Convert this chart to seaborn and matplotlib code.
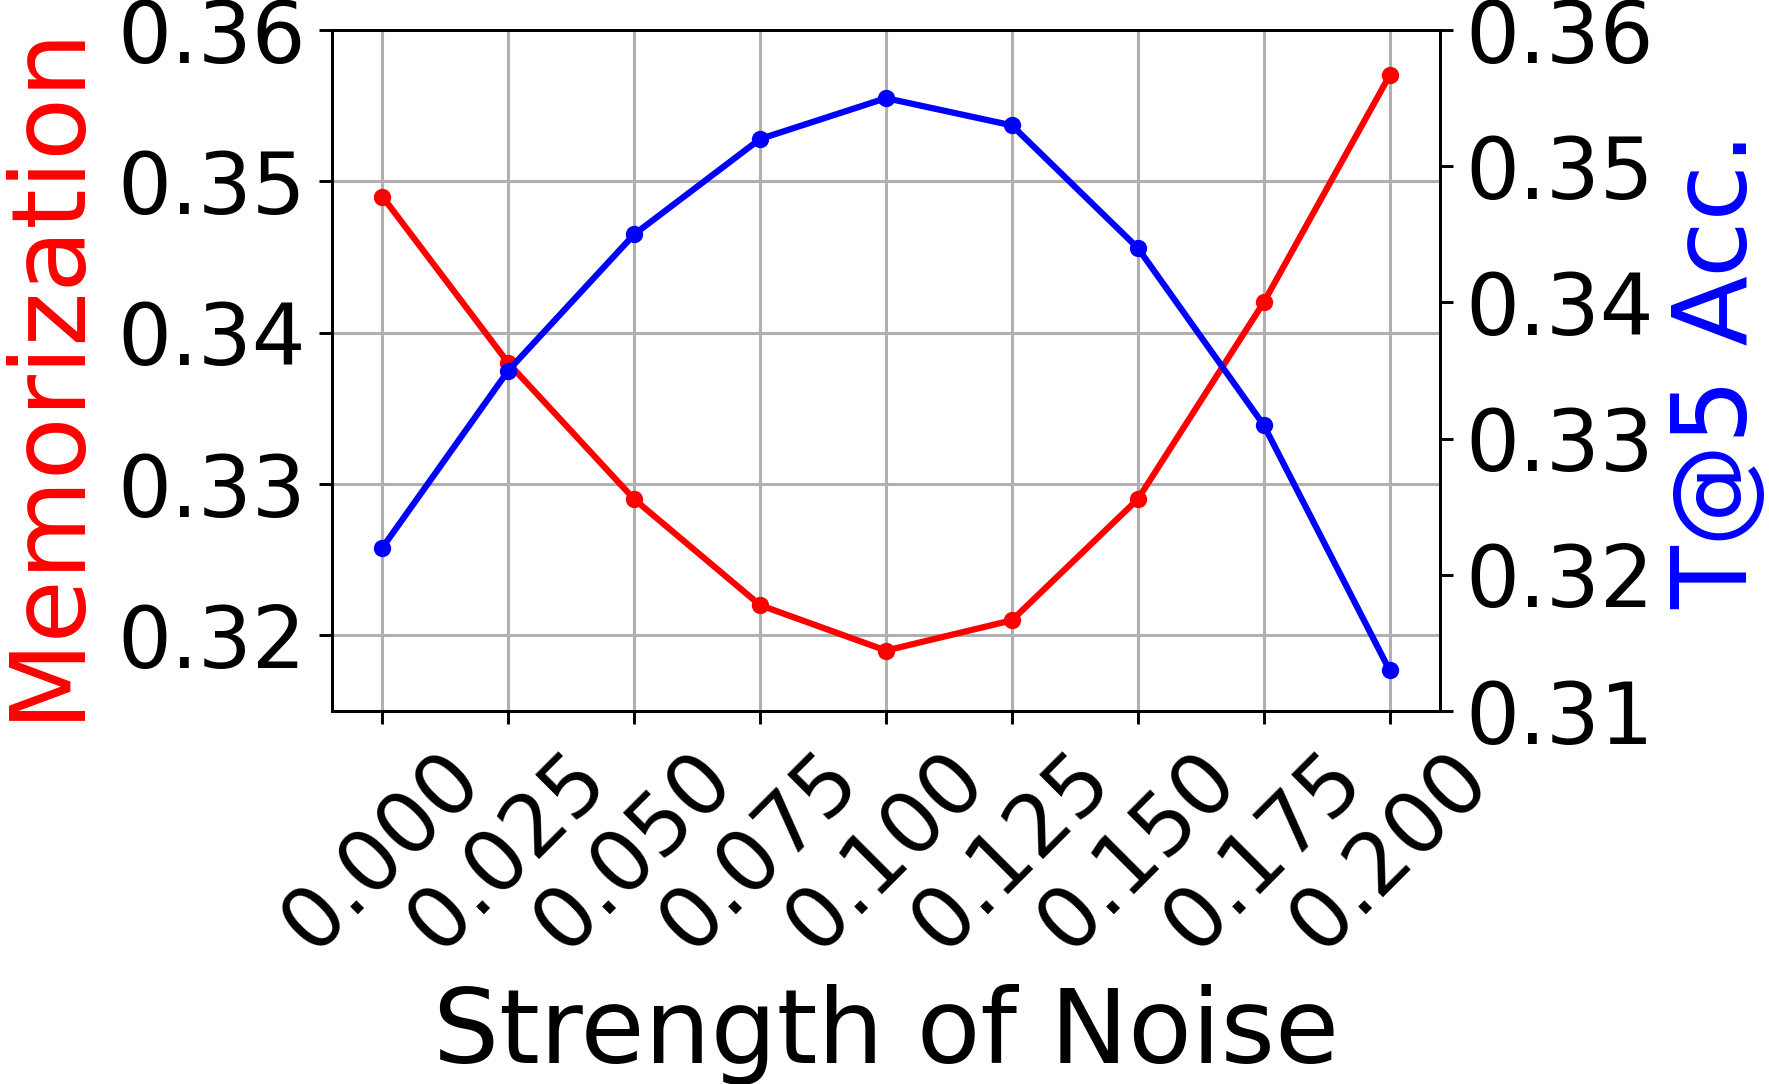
import seaborn as sns
import matplotlib.pyplot as plt
import pandas as pd

noise = [0.000, 0.025, 0.050, 0.075, 0.100, 0.125, 0.150, 0.175, 0.200]
memorization = [0.349, 0.338, 0.329, 0.322, 0.319, 0.321, 0.329, 0.342, 0.357]
t5_acc = [0.322, 0.335, 0.345, 0.352, 0.355, 0.353, 0.344, 0.331, 0.313]

df = pd.DataFrame({'noise': noise, 'mem': memorization, 'acc': t5_acc})

fig, ax1 = plt.subplots(figsize=(17.69, 10.84), dpi=100)
fig.subplots_adjust(left=0.1877, right=0.814, bottom=0.344, top=0.9723)

sns.lineplot(data=df, x='noise', y='mem', ax=ax1, color='red', marker='o',
             lw=4.5, ms=12.5, mew=0)
ax1.set_ylim(0.315, 0.36)
ax1.set_yticks([0.32, 0.33, 0.34, 0.35, 0.36])
ax1.set_xticks(noise)
ax1.set_xticklabels([f'{v:.3f}' for v in noise], rotation=45)
ax1.grid(True, color='#b0b0b0', linewidth=2.2)
ax1.set_xlabel('Strength of Noise', fontsize=75, labelpad=12)
ax1.set_ylabel('Memorization', fontsize=74, color='red', labelpad=14)
ax1.tick_params(labelsize=61, width=2.1, length=9.4, pad=9)

ax2 = ax1.twinx()
sns.lineplot(data=df, x='noise', y='acc', ax=ax2, color='blue', marker='o',
             lw=4.5, ms=12.5, mew=0)
ax2.set_ylim(0.31, 0.36)
ax2.set_yticks([0.31, 0.32, 0.33, 0.34, 0.35, 0.36])
ax2.set_ylabel('T@5 Acc.', fontsize=74, color='blue', labelpad=10)
ax2.tick_params(labelsize=61, width=2.1, length=9.4, pad=9)

for ax in (ax1, ax2):
    for s in ax.spines.values():
        s.set_linewidth(2.1)

plt.savefig('out.png', dpi=100)
